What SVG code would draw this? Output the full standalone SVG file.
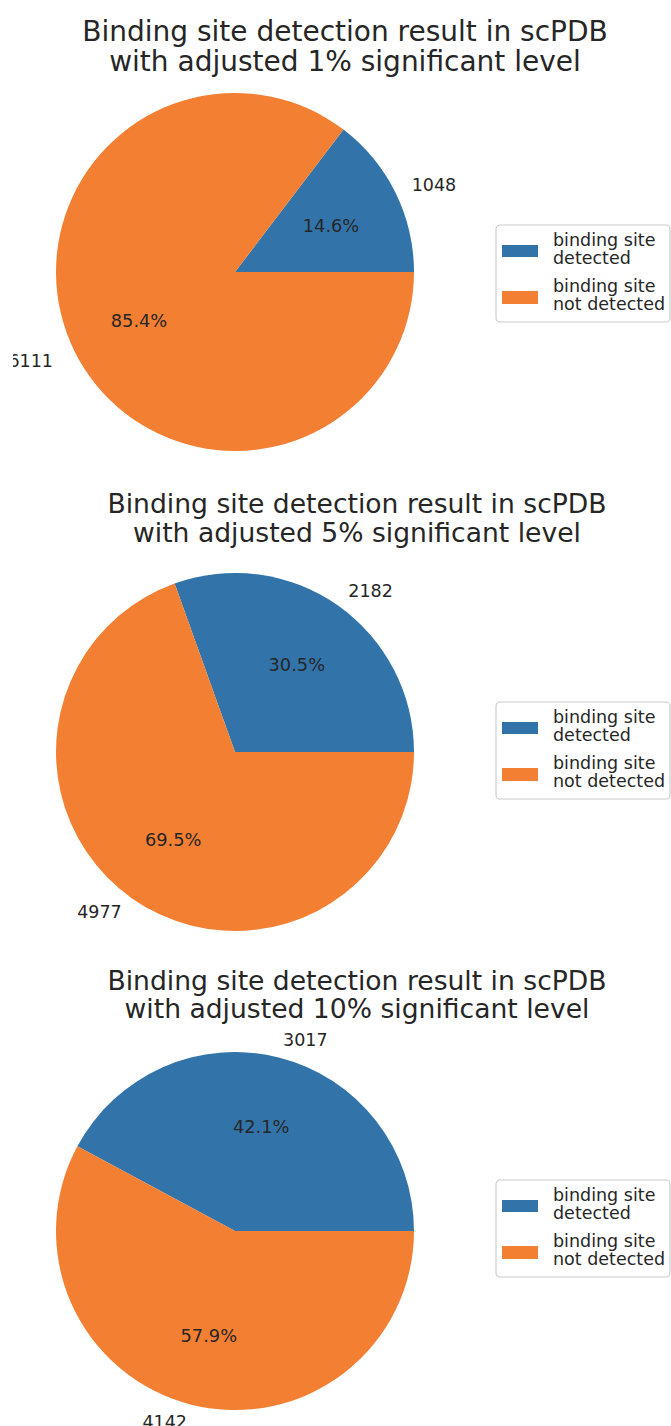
<svg xmlns="http://www.w3.org/2000/svg" width="671" height="1426" viewBox="0 0 671 1426">
  <style>
    text { font-family: "DejaVu Sans", "Liberation Sans", sans-serif; fill: #262626; }
    .title { text-anchor: middle; }
    .t1 { font-size: 28px; }
    .t2 { font-size: 26.6px; }
    .pct { font-size: 17.8px; text-anchor: middle; }
    .lbl { font-size: 17.5px; }
    .end { text-anchor: end; }
    .leg { font-size: 17.5px; }
    .blue { fill: #3274a9; }
    .orange { fill: #f37f32; }
    .legbox { fill: #ffffff; stroke: #cccccc; stroke-width: 1.2; }
  </style>
  <defs>
    <clipPath id="leftcut"><rect x="13" y="0" width="658" height="1426"/></clipPath>
    <g id="legend">
      <rect class="legbox" x="496" y="0" width="174" height="97" rx="4"/>
      <rect class="blue" x="502" y="20" width="36" height="12"/>
      <text class="leg" x="553" y="20.7">binding site</text>
      <text class="leg" x="553" y="39">detected</text>
      <rect class="orange" x="502" y="66" width="36" height="13"/>
      <text class="leg" x="553" y="67">binding site</text>
      <text class="leg" x="553" y="85">not detected</text>
    </g>
  </defs>
  <rect width="671" height="1426" fill="#ffffff"/>

  <!-- 1% significance level -->
  <g id="chart-1pct">
    <text class="title t1" x="345" y="41">Binding site detection result in scPDB</text>
    <text class="title t1" x="345" y="71">with adjusted 1% significant level</text>
    <path class="blue" d="M235,272 L414,272 A179,179 0 0 0 343.5,129.6 Z"/>
    <path class="orange" d="M235,272 L343.5,129.6 A179,179 0 1 0 414,272 Z"/>
    <text class="pct" x="331" y="231.5">14.6%</text>
    <text class="pct" x="139" y="326.5">85.4%</text>
    <text class="lbl" x="411.7" y="191">1048</text>
    <text class="lbl end" x="53" y="367" clip-path="url(#leftcut)">6111</text>
    <use href="#legend" y="225"/>
  </g>

  <!-- 5% significance level -->
  <g id="chart-5pct">
    <text class="title t2" x="357" y="513">Binding site detection result in scPDB</text>
    <text class="title t2" x="357" y="542">with adjusted 5% significant level</text>
    <path class="blue" d="M235,752 L414,752 A179,179 0 0 0 174.6,583.5 Z"/>
    <path class="orange" d="M235,752 L174.6,583.5 A179,179 0 1 0 414,752 Z"/>
    <text class="pct" x="296.8" y="670.5">30.5%</text>
    <text class="pct" x="173.2" y="846">69.5%</text>
    <text class="lbl" x="348.3" y="597">2182</text>
    <text class="lbl end" x="121.7" y="918">4977</text>
    <use href="#legend" y="702"/>
  </g>

  <!-- 10% significance level -->
  <g id="chart-10pct">
    <text class="title t2" x="357" y="990">Binding site detection result in scPDB</text>
    <text class="title t2" x="357" y="1018">with adjusted 10% significant level</text>
    <path class="blue" d="M235,1231 L414,1231 A179,179 0 0 0 77.4,1146.2 Z"/>
    <path class="orange" d="M235,1231 L77.4,1146.2 A179,179 0 1 0 414,1231 Z"/>
    <text class="pct" x="261.2" y="1133">42.1%</text>
    <text class="pct" x="208.8" y="1341.5">57.9%</text>
    <text class="lbl" x="283.1" y="1046">3017</text>
    <text class="lbl end" x="187" y="1428">4142</text>
    <use href="#legend" y="1180"/>
  </g>
</svg>
